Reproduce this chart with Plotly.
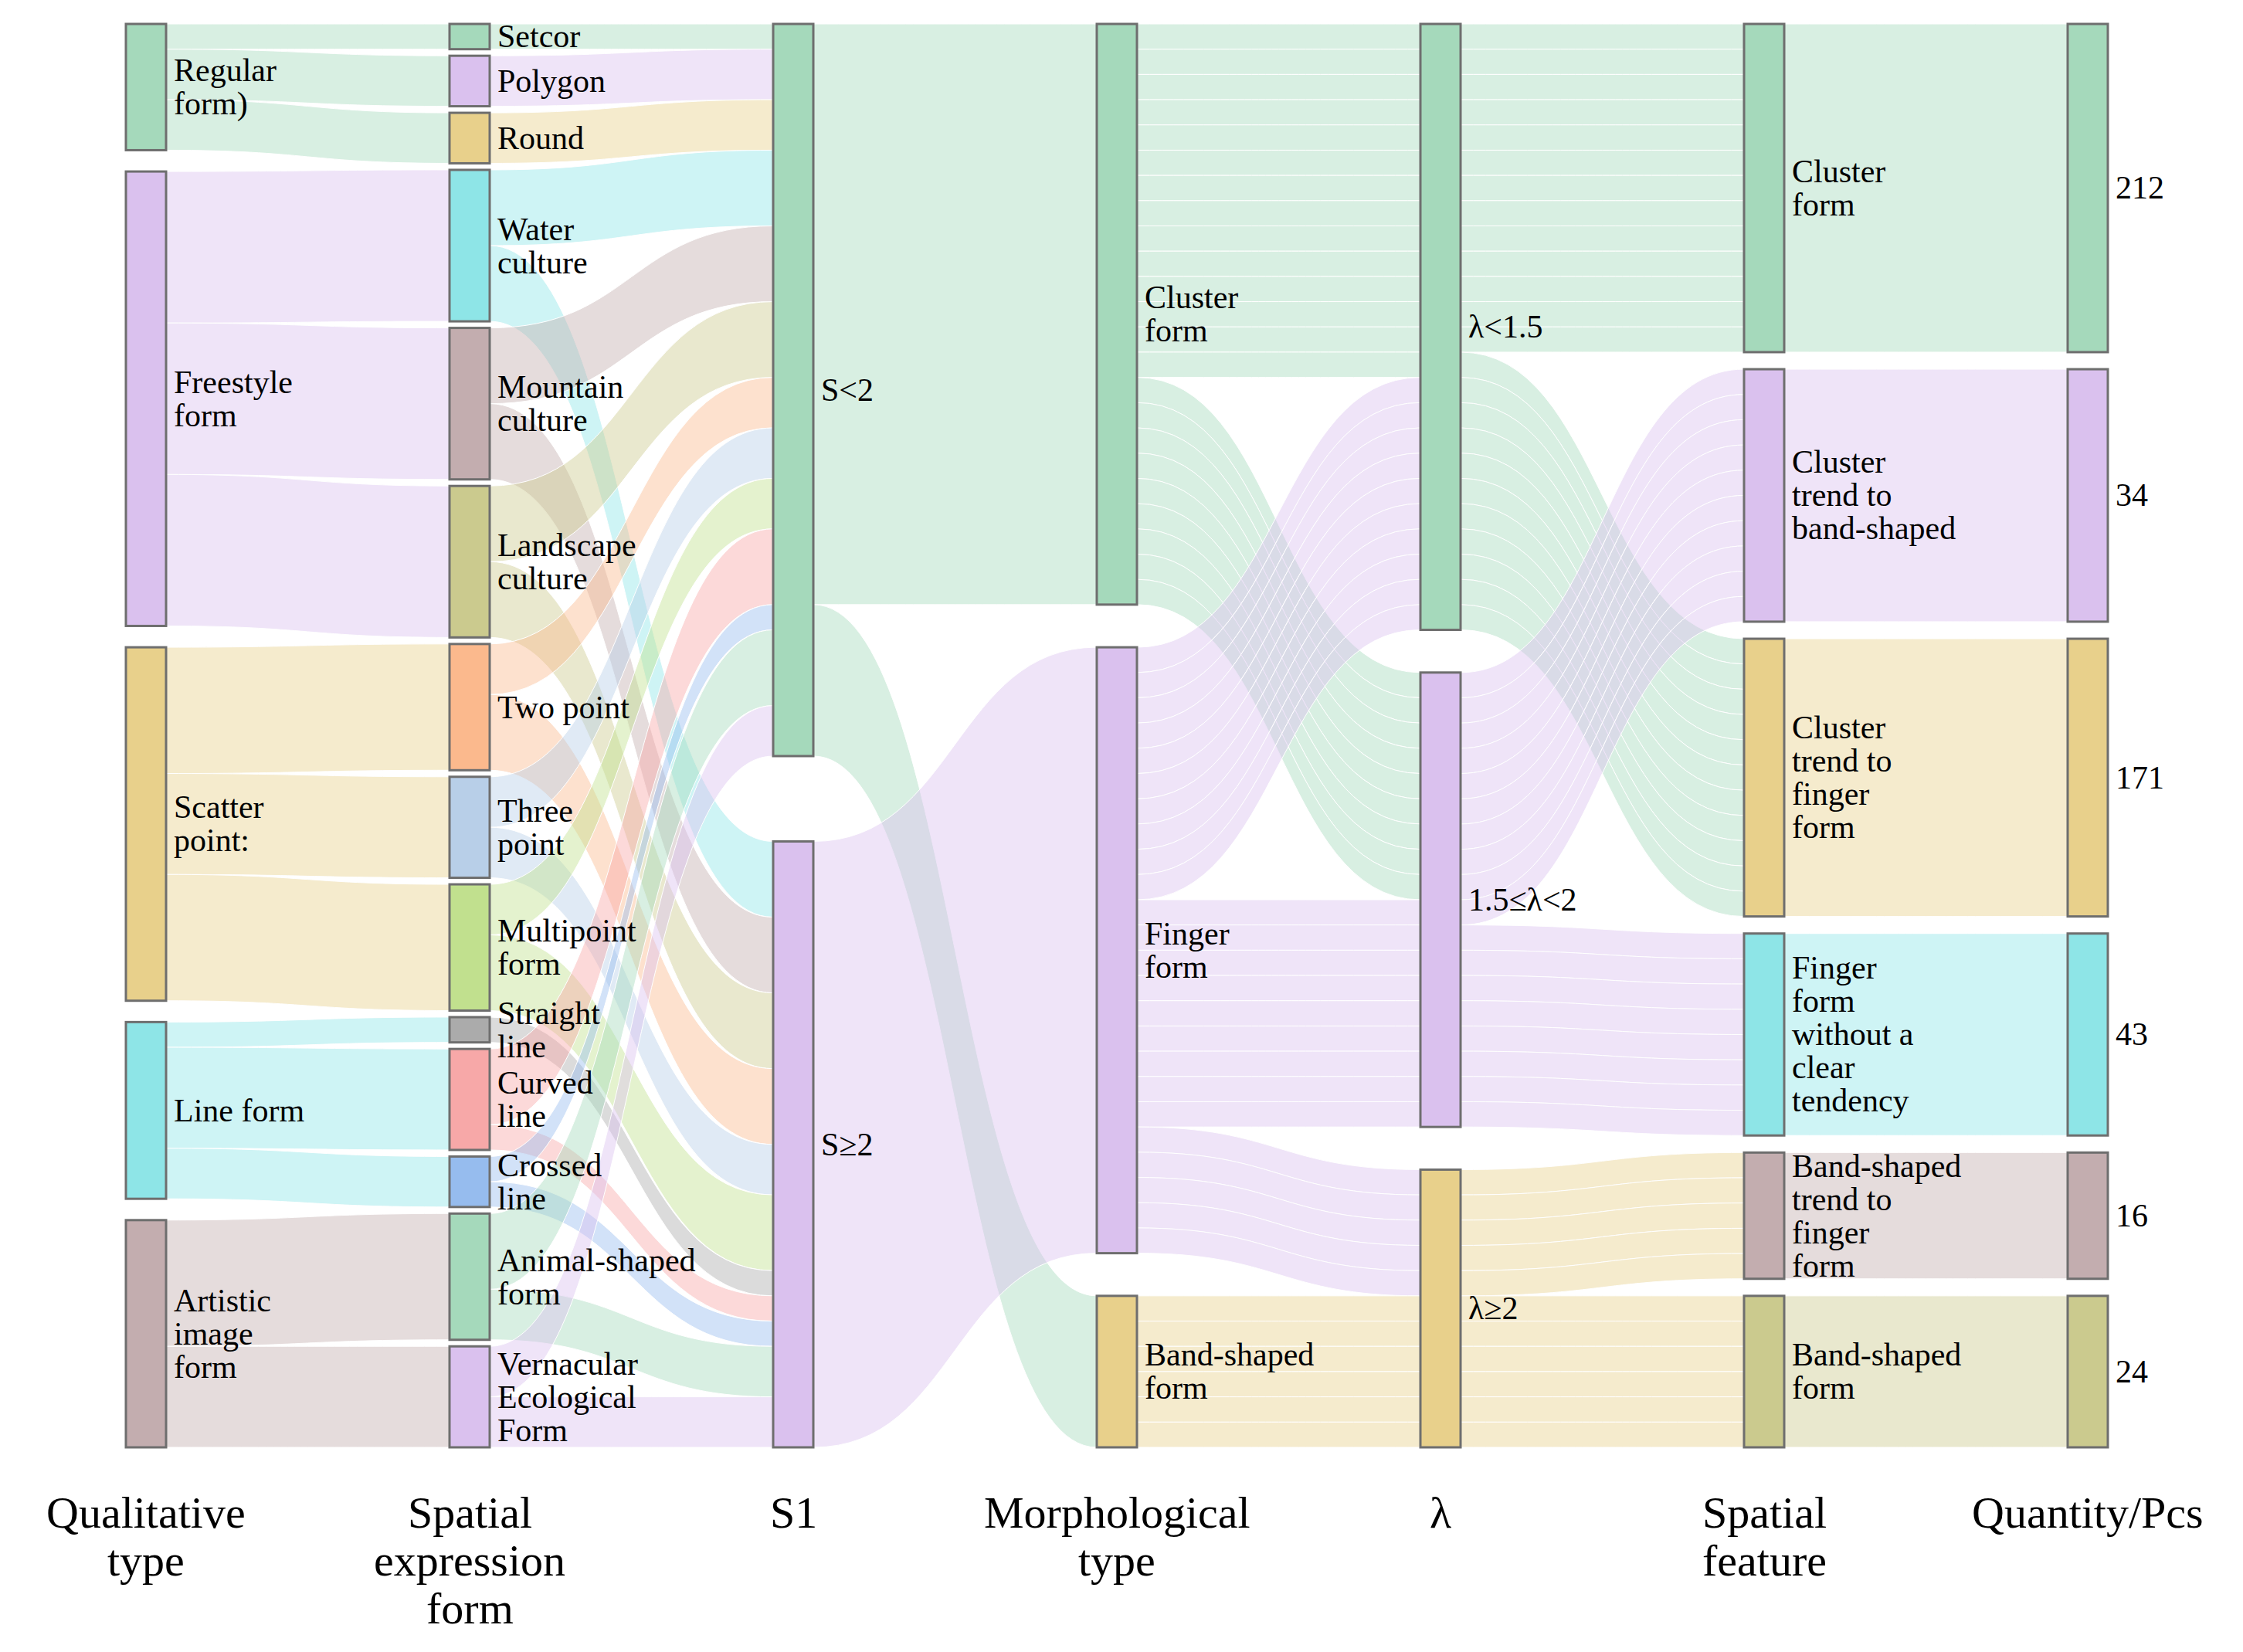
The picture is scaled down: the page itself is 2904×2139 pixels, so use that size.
import plotly.graph_objects as go

# ---------------- data ----------------
qualitative_types = ["Regular\nform)", "Freestyle\nform", "Scatter\npoint:", "Line form",
                     "Artistic\nimage\nform"]
spatial_expression_forms = ["Setcor", "Polygon", "Round", "Water\nculture", "Mountain\nculture",
                            "Landscape\nculture", "Two point", "Three\npoint", "Multipoint\nform",
                            "Straight\nline", "Curved\nline", "Crossed\nline", "Animal-shaped\nform",
                            "Vernacular\nEcological\nForm"]
s1_classes = ["S<2", "S≥2"]
morphological_types = ["Cluster\nform", "Finger\nform", "Band-shaped\nform"]
lambda_classes = ["λ<1.5", "1.5≤λ<2", "λ≥2"]
spatial_features = ["Cluster\nform", "Cluster\ntrend to\nband-shaped", "Cluster\ntrend to\nfinger\nform",
                    "Finger\nform\nwithout a\nclear\ntendency", "Band-shaped\ntrend to\nfinger\nform",
                    "Band-shaped\nform"]
quantities = [212, 34, 171, 43, 16, 24]
column_titles = ["Qualitative\ntype", "Spatial\nexpression\nform", "S1", "Morphological\ntype",
                 "λ", "Spatial\nfeature", "Quantity/Pcs"]

# number of paths between neighbouring columns: (source index, target index, paths)
qual_to_expr = [(0, 0, 1), (0, 1, 2), (0, 2, 2), (1, 3, 6), (1, 4, 6), (1, 5, 6),
                (2, 6, 5), (2, 7, 4), (2, 8, 5), (3, 9, 1), (3, 10, 4), (3, 11, 2),
                (4, 12, 5), (4, 13, 4)]
expr_to_s1 = [(0, 0, 1), (1, 0, 2), (2, 0, 2), (3, 0, 3), (3, 1, 3), (4, 0, 3), (4, 1, 3),
              (5, 0, 3), (5, 1, 3), (6, 0, 2), (6, 1, 3), (7, 0, 2), (7, 1, 2), (8, 0, 2),
              (8, 1, 3), (9, 1, 1), (10, 0, 3), (10, 1, 1), (11, 0, 1), (11, 1, 1),
              (12, 0, 3), (12, 1, 2), (13, 0, 2), (13, 1, 2)]
s1_to_morph = [(0, 0, 23), (0, 2, 6), (1, 1, 24)]
morph_to_lambda = [(0, 0, 14), (0, 1, 9), (1, 0, 10), (1, 1, 9), (1, 2, 5), (2, 2, 6)]
lambda_to_feature = [(0, 0, 13), (0, 2, 11), (1, 1, 10), (1, 3, 8), (2, 4, 5), (2, 5, 6)]
feature_to_quantity = [(0, 0, 13), (1, 1, 10), (2, 2, 11), (3, 3, 8), (4, 4, 5), (5, 5, 6)]

# ---------------- styles ----------------
GREEN, LAV, GOLD, CYAN = "#a5d9bb", "#dac1ee", "#e8d08b", "#8ee5e7"
ROSY, OLIVE, ORANGE, LBLUE = "#c3adaf", "#cbca8e", "#fbb98d", "#b8cfe8"
LGREEN, GRAY, PINK, BLUE = "#c1e08e", "#ababab", "#f7a8a8", "#96bcee"
column_colors = [
    [GREEN, LAV, GOLD, CYAN, ROSY],
    [GREEN, LAV, GOLD, CYAN, ROSY, OLIVE, ORANGE, LBLUE, LGREEN, GRAY, PINK, BLUE, GREEN, LAV],
    [GREEN, LAV],
    [GREEN, LAV, GOLD],
    [GREEN, LAV, GOLD],
    [GREEN, LAV, GOLD, CYAN, ROSY, OLIVE],
    [GREEN, LAV, GOLD, CYAN, ROSY, OLIVE],
]
LINK_ALPHA = 0.43
STRAND_STAGES = (3, 4)          # stages drawn as individual path strands
FONT = "Liberation Serif, Times New Roman, serif"

FIG_W, FIG_H = 2904, 2139
TOP_PX, BOTTOM_PX = 31, 1874
PLOT_H = BOTTOM_PX - TOP_PX
NODE_PAD = 8.5
THICK = 52
X0_PX, DX_PX = 189, 419
LABEL_SIZE, LABEL_LINE = 42, 43
TITLE_SIZE, TITLE_LINE, TITLE_Y0 = 58, 62, 1958

columns = [qualitative_types, spatial_expression_forms, s1_classes, morphological_types,
           lambda_classes, spatial_features, [str(q) for q in quantities]]
stages = [qual_to_expr, expr_to_s1, s1_to_morph, morph_to_lambda, lambda_to_feature,
          feature_to_quantity]


def hex_rgba(h, a):
    h = h.lstrip("#")
    r, g, b = int(h[0:2], 16), int(h[2:4], 16), int(h[4:6], 16)
    return f"rgba({r},{g},{b},{a})"


offsets = []
acc = 0
for col in columns:
    offsets.append(acc)
    acc += len(col)

# node values (max of in / out)
values = [[0] * len(col) for col in columns]
for si, stage in enumerate(stages):
    outs = [0] * len(columns[si])
    ins = [0] * len(columns[si + 1])
    for s, t, v in stage:
        outs[s] += v
        ins[t] += v
    for i, v in enumerate(outs):
        values[si][i] = max(values[si][i], v)
    for i, v in enumerate(ins):
        values[si + 1][i] = max(values[si + 1][i], v)

total = sum(values[0])
max_n = max(len(c) for c in columns)
ky = (PLOT_H - (max_n - 1) * NODE_PAD) / total

node_x, node_y, node_col, node_names, centers = [], [], [], [], []
for ci, col in enumerate(columns):
    heights = [v * ky for v in values[ci]]
    gap = (PLOT_H - sum(heights)) / (len(col) - 1) if len(col) > 1 else 0
    y = 0.0
    cx = X0_PX + ci * DX_PX
    for i, name in enumerate(col):
        cy = y + heights[i] / 2
        node_x.append(cx / FIG_W)
        node_y.append(cy / PLOT_H)
        node_col.append(column_colors[ci][i])
        node_names.append(name.replace("\n", " "))
        centers.append((ci, name, cx, cy))
        y += heights[i] + gap

src, tgt, val, lcol, lw = [], [], [], [], []
for si, stage in enumerate(stages):
    for s, t, v in stage:
        parts = [1] * v if si in STRAND_STAGES else [v]
        for p in parts:
            src.append(offsets[si] + s)
            tgt.append(offsets[si + 1] + t)
            val.append(p)
            lcol.append(hex_rgba(column_colors[si][s], LINK_ALPHA))
            lw.append(1.2 if si in STRAND_STAGES else 0)

fig = go.Figure(go.Sankey(
    arrangement="fixed",
    domain=dict(x=[0, 1], y=[1 - BOTTOM_PX / FIG_H, 1 - TOP_PX / FIG_H]),
    node=dict(
        pad=NODE_PAD, thickness=THICK,
        line=dict(color="#6e6e6e", width=3),
        color=node_col, label=[""] * len(node_col),
        x=node_x, y=node_y,
        customdata=node_names, hovertemplate="%{customdata}<extra></extra>",
    ),
    link=dict(source=src, target=tgt, value=val, color=lcol,
              line=dict(width=lw, color="white"), hoverinfo="skip"),
))

annotations = []
for ci, name, cx, cy in centers:
    lines = name.split("\n")
    m = len(lines)
    for k, line in enumerate(lines):
        py = TOP_PX + cy + (k - (m - 1) / 2) * LABEL_LINE
        annotations.append(dict(
            text=line, x=(cx + THICK / 2 + 8) / FIG_W, y=1 - py / FIG_H,
            xref="paper", yref="paper", xanchor="left", yanchor="middle",
            showarrow=False, font=dict(family=FONT, size=LABEL_SIZE, color="#000000")))

for ci, title in enumerate(column_titles):
    cx = X0_PX + ci * DX_PX
    for k, line in enumerate(title.split("\n")):
        py = TITLE_Y0 + k * TITLE_LINE
        annotations.append(dict(
            text=line, x=cx / FIG_W, y=1 - py / FIG_H,
            xref="paper", yref="paper", xanchor="center", yanchor="middle",
            showarrow=False, font=dict(family=FONT, size=TITLE_SIZE, color="#000000")))

fig.update_layout(
    width=FIG_W, height=FIG_H,
    margin=dict(l=0, r=0, t=0, b=0),
    paper_bgcolor="white", plot_bgcolor="white",
    font=dict(family=FONT, size=LABEL_SIZE, color="#000000"),
    annotations=annotations,
)

fig.write_html("out.html", config={"displayModeBar": False},
               post_script="document.body.style.margin='0';")
